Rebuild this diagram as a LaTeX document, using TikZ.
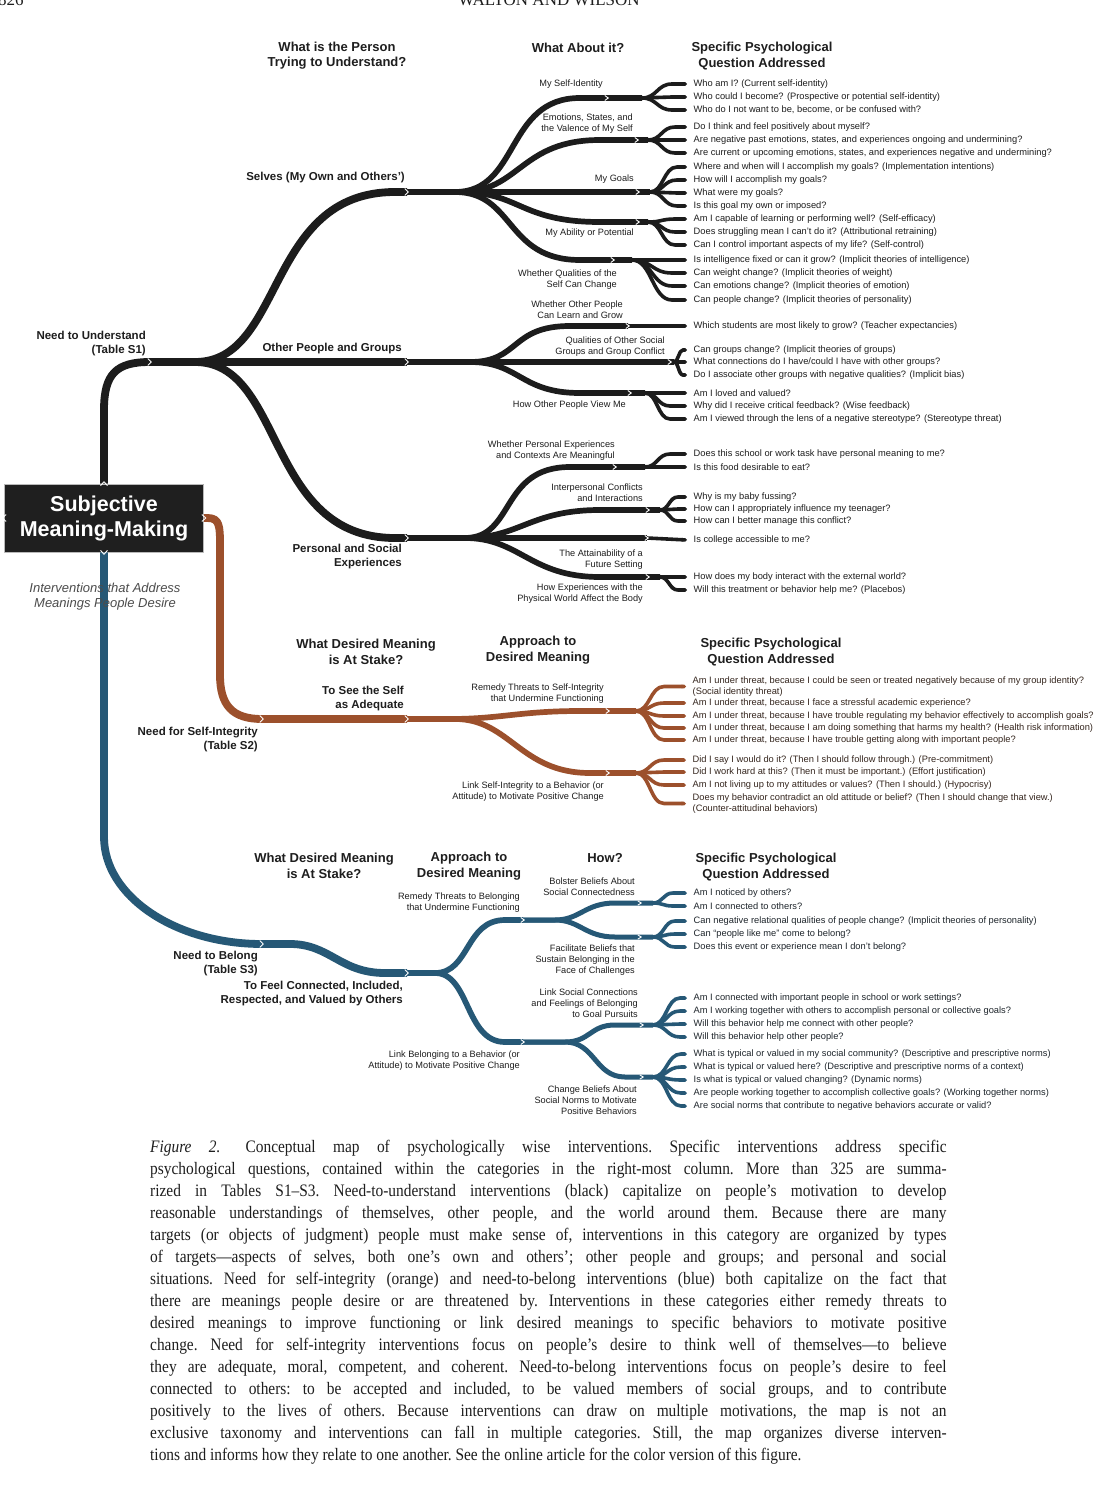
\documentclass[tikz,border=0pt]{standalone}
\usepackage{fontspec}
\setmainfont{Liberation Sans}
\newfontfamily\capfont{Liberation Serif}
\usepackage{graphicx}
\usetikzlibrary{arrows.meta,calc}
\definecolor{cblk}{HTML}{1C1C1C}
\definecolor{corg}{HTML}{9C502C}
\definecolor{cblu}{HTML}{265876}
\definecolor{txt}{HTML}{1E1E1E}
\definecolor{txto}{HTML}{35261E}
\definecolor{txtb}{HTML}{1F262C}
\definecolor{boxc}{HTML}{1F1F1F}
\newcommand\fan[4]{%
  \path (#2) ++(#3,0) coordinate (#2e);
  \foreach \qq in {#4}{%
    \draw[#1] (#2) .. controls +(#3*0.5,0) and +(-#3*0.5,0) .. (#2e |- \qq.west) -- (\qq.west);
  }%
}
\newcommand\chev[2]{\draw[white,line width=0.9pt] ([xshift=-2.2pt,yshift=#2]#1) -- ([xshift=1.3pt]#1) -- ([xshift=-2.2pt,yshift=-#2]#1);}
\begin{document}
\begin{tikzpicture}[x=1pt,y=-1pt,line join=round,
  k0/.style={draw=cblk,line width=7.8pt},
  k1/.style={draw=cblk,line width=5.7pt},
  kl/.style={draw=cblk,line width=3.6pt,-{Triangle Cap}},
  o0/.style={draw=corg,line width=7.8pt},
  o1/.style={draw=corg,line width=5.7pt},
  ol/.style={draw=corg,line width=3.6pt,-{Triangle Cap}},
  b0/.style={draw=cblu,line width=7.8pt},
  b1/.style={draw=cblu,line width=5.7pt},
  b2/.style={draw=cblu,line width=5pt},
  bl/.style={draw=cblu,line width=3.6pt,-{Triangle Cap}},
  hdr/.style={font=\fontsize{13}{15.5}\selectfont\bfseries,align=center,inner sep=0,text=txt},
  mid/.style={font=\fontsize{11.5}{14}\selectfont\bfseries,align=right,anchor=east,inner sep=0,text=txt},
  lab/.style={font=\fontsize{9.2}{11}\selectfont,align=right,anchor=east,inner sep=0,text=txt},
  qs/.style={font=\fontsize{9.3}{11}\selectfont,align=left,anchor=west,inner xsep=6.5pt,inner ysep=0,text=txt},
  qso/.style={qs,text=txto},
  qsb/.style={qs,text=txtb}
]
\fill[white] (0,0) rectangle (1112,1496);
\useasboundingbox (0,0) rectangle (1112,1496);

% running head (cropped at the page top, as in the reference)
\node[anchor=base west,inner sep=0,font=\capfont\fontsize{17}{17}\selectfont,text=txt] (pg) at (-2,6) {826};
\node[anchor=base,inner sep=0,font=\capfont\fontsize{17}{17}\selectfont,text=txt] (rh) at (549,6) {WALTON AND WILSON};

% ---------- question nodes (black) ----------
\node[qs] (q1) at (687,84) {Who am I? (Current self-identity)};
\node[qs] (q2) at (687,97) {Who could I become? (Prospective or potential self-identity)};
\node[qs] (q3) at (687,110) {Who do I not want to be, become, or be confused with?};
\node[qs] (q4) at (687,127) {Do I think and feel positively about myself?};
\node[qs] (q5) at (687,140) {Are negative past emotions, states, and experiences ongoing and undermining?};
\node[qs] (q6) at (687,153) {Are current or upcoming emotions, states, and experiences negative and undermining?};
\node[qs] (q7) at (687,167) {Where and when will I accomplish my goals? (Implementation intentions)};
\node[qs] (q8) at (687,180) {How will I accomplish my goals?};
\node[qs] (q9) at (687,193) {What were my goals?};
\node[qs] (q10) at (687,206) {Is this goal my own or imposed?};
\node[qs] (q11) at (687,219) {Am I capable of learning or performing well? (Self-efficacy)};
\node[qs] (q12) at (687,232) {Does struggling mean I can’t do it? (Attributional retraining)};
\node[qs] (q13) at (687,245) {Can I control important aspects of my life? (Self-control)};
\node[qs] (q14) at (687,260) {Is intelligence fixed or can it grow? (Implicit theories of intelligence)};
\node[qs] (q15) at (687,273) {Can weight change? (Implicit theories of weight)};
\node[qs] (q16) at (687,286) {Can emotions change? (Implicit theories of emotion)};
\node[qs] (q17) at (687,300) {Can people change? (Implicit theories of personality)};
\node[qs] (q18) at (687,326) {Which students are most likely to grow? (Teacher expectancies)};
\node[qs] (q19) at (687,350) {Can groups change? (Implicit theories of groups)};
\node[qs] (q20) at (687,362) {What connections do I have/could I have with other groups?};
\node[qs] (q21) at (687,375) {Do I associate other groups with negative qualities? (Implicit bias)};
\node[qs] (q22) at (687,393) {Am I loved and valued?};
\node[qs] (q23) at (687,406) {Why did I receive critical feedback? (Wise feedback)};
\node[qs] (q24) at (687,419) {Am I viewed through the lens of a negative stereotype? (Stereotype threat)};
\node[qs] (q25) at (687,454) {Does this school or work task have personal meaning to me?};
\node[qs] (q26) at (687,467) {Is this food desirable to eat?};
\node[qs] (q27) at (687,497) {Why is my baby fussing?};
\node[qs] (q28) at (687,509) {How can I appropriately influence my teenager?};
\node[qs] (q29) at (687,521) {How can I better manage this conflict?};
\node[qs] (q30) at (687,540) {Is college accessible to me?};
\node[qs] (q31) at (687,577) {How does my body interact with the external world?};
\node[qs] (q32) at (687,590) {Will this treatment or behavior help me? (Placebos)};

% ---------- question nodes (orange) ----------
\node[qso] (r1) at (686,686.5) {Am I under threat, because I could be seen or treated negatively because of my group identity?\\(Social identity threat)};
\node[qso] (r2) at (686,703) {Am I under threat, because I face a stressful academic experience?};
\node[qso] (r3) at (686,716) {Am I under threat, because I have trouble regulating my behavior effectively to accomplish goals?};
\node[qso] (r4) at (686,728) {Am I under threat, because I am doing something that harms my health? (Health risk information)};
\node[qso] (r5) at (686,740) {Am I under threat, because I have trouble getting along with important people?};
\node[qso] (r6) at (686,760) {Did I say I would do it? (Then I should follow through.) (Pre-commitment)};
\node[qso] (r7) at (686,772) {Did I work hard at this? (Then it must be important.) (Effort justification)};
\node[qso] (r8) at (686,785) {Am I not living up to my attitudes or values? (Then I should.) (Hypocrisy)};
\node[qso] (r9) at (686,803.5) {Does my behavior contradict an old attitude or belief? (Then I should change that view.)\\(Counter-attitudinal behaviors)};

% ---------- question nodes (blue) ----------
\node[qsb] (b1) at (687,893) {Am I noticed by others?};
\node[qsb] (b2) at (687,906) {Am I connected to others?};
\node[qsb] (b3) at (687,921) {Can negative relational qualities of people change? (Implicit theories of personality)};
\node[qsb] (b4) at (687,934) {Can “people like me” come to belong?};
\node[qsb] (b5) at (687,947) {Does this event or experience mean I don’t belong?};
\node[qsb] (b6) at (687,998) {Am I connected with important people in school or work settings?};
\node[qsb] (b7) at (687,1011) {Am I working together with others to accomplish personal or collective goals?};
\node[qsb] (b8) at (687,1024) {Will this behavior help me connect with other people?};
\node[qsb] (b9) at (687,1037) {Will this behavior help other people?};
\node[qsb] (b10) at (687,1054) {What is typical or valued in my social community? (Descriptive and prescriptive norms)};
\node[qsb] (b11) at (687,1067) {What is typical or valued here? (Descriptive and prescriptive norms of a context)};
\node[qsb] (b12) at (687,1080) {Is what is typical or valued changing? (Dynamic norms)};
\node[qsb] (b13) at (687,1093) {Are people working together to accomplish collective goals? (Working together norms)};
\node[qsb] (b14) at (687,1106) {Are social norms that contribute to negative behaviors accurate or valid?};

% ---------- central box ----------
\node[fill=boxc,draw=gray!55,line width=0.6pt,minimum width=199pt,minimum height=68pt,inner sep=0,text=white,align=center,font=\fontsize{21.5}{25}\selectfont\bfseries] (box) at (104,518) {Subjective\\Meaning-Making};

% ---------- coordinates ----------
\coordinate (NU) at (150,362);
\coordinate (S) at (407,192); \coordinate (O) at (407,362); \coordinate (P) at (407,538);
\coordinate (S1) at (607,98);  \coordinate (S1f) at (642,98);
\coordinate (S2) at (637,140); \coordinate (S2f) at (648,140);
\coordinate (S3) at (638,192); \coordinate (S3f) at (650,192);
\coordinate (S4) at (638,222); \coordinate (S4f) at (648,222);
\coordinate (S5) at (613,260); \coordinate (S5f) at (632,260);
\coordinate (O1) at (628,326);
\coordinate (O2) at (670,362); \coordinate (O2f) at (674,362);
\coordinate (O3) at (630,393); \coordinate (O3f) at (645,393);
\coordinate (P1) at (615,467); \coordinate (P1f) at (645,467);
\coordinate (P2) at (648,510); \coordinate (P2f) at (660,510);
\coordinate (P3) at (647,538);
\coordinate (P4) at (648,577); \coordinate (P4f) at (660,577);
\coordinate (OR1) at (262,719); \coordinate (OR2) at (407,719);
\coordinate (OR3) at (608,711); \coordinate (OR3f) at (636,711);
\coordinate (OR4) at (608,773); \coordinate (OR4f) at (636,773);
\coordinate (BL1) at (262,944); \coordinate (BL2) at (407,973);
\coordinate (BL3) at (523,920); \coordinate (BL4) at (523,1042);
\coordinate (BL5) at (640,903); \coordinate (BL5f) at (653,903);
\coordinate (BL6) at (640,937); \coordinate (BL6f) at (653,937);
\coordinate (BL7) at (642,1025); \coordinate (BL7f) at (653,1025);
\coordinate (BL8) at (642,1077); \coordinate (BL8f) at (653,1077);

% ---------- black tree ----------
\draw[k0] (box.north) -- (104,410) .. controls (104,374) and (116,362) .. (NU);
\draw[k0] (NU) -- ++(45,0) .. controls +(90,0) and +(-130,0) .. ([xshift=-12pt]S) -- (S);
\draw[k0] (NU) -- (O);
\draw[k0] (NU) -- ++(45,0) .. controls +(90,0) and +(-130,0) .. ([xshift=-12pt]P) -- (P);
\draw[k1] (S) -- ++(48,0) .. controls +(65,0) and +(-75,0) .. ([xshift=-27pt]S1) -- (S1) -- (S1f);
\draw[k1] (S) -- ++(53,0) .. controls +(60,0) and +(-80,0) .. ([xshift=-37pt]S2) -- (S2) -- (S2f);
\draw[k1] (S) -- (S3) -- (S3f);
\draw[k1] (S) -- ++(53,0) .. controls +(60,0) and +(-80,0) .. ([xshift=-38pt]S4) -- (S4) -- (S4f);
\draw[k1] (S) -- ++(48,0) .. controls +(60,0) and +(-75,0) .. ([xshift=-33pt]S5) -- (S5) -- (S5f);
\draw[k1] (O) -- ++(63,0) .. controls +(50,0) and +(-60,0) .. ([xshift=-58pt]O1) -- (O1);
\draw[k1] (O) -- (O2) -- (O2f);
\draw[k1] (O) -- ++(63,0) .. controls +(50,0) and +(-60,0) .. ([xshift=-50pt]O3) -- (O3) -- (O3f);
\draw[k1] (P) -- ++(58,0) .. controls +(50,0) and +(-70,0) .. ([xshift=-45pt]P1) -- (P1) -- (P1f);
\draw[k1] (P) -- ++(58,0) .. controls +(55,0) and +(-70,0) .. ([xshift=-48pt]P2) -- (P2) -- (P2f);
\draw[k1] (P) -- (P3);
\draw[k1] (P) -- ++(58,0) .. controls +(55,0) and +(-70,0) .. ([xshift=-48pt]P4) -- (P4) -- (P4f);
\fan{kl}{S1f}{30}{q1,q2,q3}
\fan{kl}{S2f}{27}{q4,q5,q6}
\fan{kl}{S3f}{27}{q7,q8,q9,q10}
\fan{kl}{S4f}{27}{q11,q12,q13}
\fan{kl}{S5f}{40}{q14,q15,q16,q17}
\draw[kl] (O1) -- (q18.west);
\fan{kl}{O2f}{9}{q19,q20,q21}
\fan{kl}{O3f}{25}{q22,q23,q24}
\fan{kl}{P1f}{25}{q25,q26}
\fan{kl}{P2f}{18}{q27,q28,q29}
\draw[kl] (P3) -- (q30.west);
\fan{kl}{P4f}{18}{q31,q32}

% ---------- orange tree ----------
\draw[o0] (box.east) -- ++(4,0) .. controls +(12,0) and +(0,-18) .. (220,545) -- (220,675) .. controls +(0,30) and +(-30,0) .. (OR1) -- (OR2);
\draw[o1] (OR2) -- ++(43,0) .. controls +(50,0) and +(-60,0) .. ([xshift=-28pt]OR3) -- (OR3) -- (OR3f);
\draw[o1] (OR2) -- ++(48,0) .. controls +(55,0) and +(-70,0) .. ([xshift=-18pt]OR4) -- (OR4) -- (OR4f);
\fan{ol}{OR3f}{28}{r1,r2,r3,r4,r5}
\fan{ol}{OR4f}{28}{r6,r7,r8,r9}

% ---------- blue tree ----------
\draw[b0] (box.south) -- (104,837) .. controls (104,896) and (175,944) .. (BL1) -- ++(28,0) .. controls +(40,0) and +(-45,0) .. ([xshift=-22pt]BL2) -- (BL2);
\draw[b1] (BL2) -- ++(28,0) .. controls +(35,0) and +(-40,0) .. ([xshift=-18pt]BL3) -- (BL3);
\draw[b1] (BL2) -- ++(28,0) .. controls +(35,0) and +(-40,0) .. ([xshift=-18pt]BL4) -- (BL4);
\draw[b2] (BL3) -- ++(32,0) .. controls +(25,0) and +(-30,0) .. ([xshift=-25pt]BL5) -- (BL5) -- (BL5f);
\draw[b2] (BL3) -- ++(32,0) .. controls +(25,0) and +(-30,0) .. ([xshift=-25pt]BL6) -- (BL6) -- (BL6f);
\draw[b2] (BL4) -- ++(42,0) .. controls +(25,0) and +(-25,0) .. ([xshift=-27pt]BL7) -- (BL7) -- (BL7f);
\draw[b2] (BL4) -- ++(42,0) .. controls +(30,0) and +(-30,0) .. ([xshift=-17pt]BL8) -- (BL8) -- (BL8f);
\fan{bl}{BL5f}{20}{b1,b2}
\fan{bl}{BL6f}{22}{b3,b4,b5}
\fan{bl}{BL7f}{27}{b6,b7,b8,b9}
\fan{bl}{BL8f}{28}{b10,b11,b12,b13,b14}

% ---------- chevrons ----------
\chev{NU}{3.4pt} \chev{S}{3.4pt} \chev{O}{3.4pt} \chev{P}{3.4pt}
\chev{S1}{2.5pt} \chev{S2}{2.5pt} \chev{S3}{2.5pt} \chev{S4}{2.5pt} \chev{S5}{2.5pt}
\chev{O1}{2.5pt} \chev{O2}{2.5pt} \chev{O3}{2.5pt}
\chev{P1}{2.5pt} \chev{P2}{2.5pt} \chev{P3}{2.5pt} \chev{P4}{2.5pt}
\chev{OR1}{3.4pt} \chev{OR2}{3.4pt} \chev{OR3}{2.5pt} \chev{OR4}{2.5pt}
\chev{BL1}{3.4pt} \chev{BL2}{3.4pt} \chev{BL3}{2.5pt} \chev{BL4}{2.5pt}
\chev{BL5}{2.1pt} \chev{BL6}{2.1pt} \chev{BL7}{2.1pt} \chev{BL8}{2.1pt}
\draw[white,line width=0.9pt] ([xshift=-3.5pt,yshift=-2pt]box.north) -- ([yshift=2pt]box.north) -- ([xshift=3.5pt,yshift=-2pt]box.north);
\draw[white,line width=0.9pt] ([xshift=-3.5pt,yshift=2pt]box.south) -- ([yshift=-2pt]box.south) -- ([xshift=3.5pt,yshift=2pt]box.south);
\draw[white,line width=0.9pt] ([xshift=2pt,yshift=3.5pt]box.west) -- ([xshift=-2pt]box.west) -- ([xshift=2pt,yshift=-3.5pt]box.west);
\draw[white,line width=0.9pt] ([xshift=-2pt,yshift=3.5pt]box.east) -- ([xshift=2pt]box.east) -- ([xshift=-2pt,yshift=-3.5pt]box.east);

% ---------- headers ----------
\node[hdr] (h1) at (337,55.5) {What is the Person\\Trying to Understand?};
\node[hdr] (h2) at (578,48) {What About it?};
\node[hdr] (h3) at (762,56) {Specific Psychological\\Question Addressed};
\node[hdr] (h4) at (366,652) {What Desired Meaning\\is At Stake?};
\node[hdr] (h5) at (538,650) {Approach to\\Desired Meaning};
\node[hdr] (h6) at (771,652) {Specific Psychological\\Question Addressed};
\node[hdr] (h7) at (324,866) {What Desired Meaning\\is At Stake?};
\node[hdr] (h8) at (469,866) {Approach to\\Desired Meaning};
\node[hdr] (h9) at (605,858) {How?};
\node[hdr] (h10) at (766,867) {Specific Psychological\\Question Addressed};

% ---------- bold branch labels ----------
\node[mid] (m1) at (146,344) {Need to Understand\\(Table S1)};
\node[mid] (m2) at (405,178) {Selves (My Own and Others’)};
\node[mid] (m3) at (402,349) {Other People and Groups};
\node[mid] (m4) at (402,557) {Personal and Social\\Experiences};
\node[mid] (m5) at (404,698.5) {To See the Self\\as Adequate};
\node[mid] (m6) at (258,740) {Need for Self-Integrity\\(Table S2)};
\node[mid] (m7) at (258,964) {Need to Belong\\(Table S3)};
\node[mid] (m8) at (403,994) {To Feel Connected, Included,\\Respected, and Valued by Others};

% ---------- small labels ----------
\node[lab] (a1) at (603,84) {My Self-Identity};
\node[lab] (a2) at (633,123.5) {Emotions, States, and\\the Valence of My Self};
\node[lab] (a3) at (634,179) {My Goals};
\node[lab] (a4) at (634,233.5) {My Ability or Potential};
\node[lab] (a5) at (617,279.5) {Whether Qualities of the\\Self Can Change};
\node[lab] (a6) at (623,309.5) {Whether Other People\\Can Learn and Grow};
\node[lab] (a7) at (665,346.5) {Qualities of Other Social\\Groups and Group Conflict};
\node[lab] (a8) at (626,405.5) {How Other People View Me};
\node[lab] (a9) at (615,451) {Whether Personal Experiences\\and Contexts Are Meaningful};
\node[lab] (a10) at (643,492.5) {Interpersonal Conflicts\\and Interactions};
\node[lab] (a11) at (643,559.5) {The Attainability of a\\Future Setting};
\node[lab] (a12) at (643,594) {How Experiences with the\\Physical World Affect the Body};
\node[lab] (a13) at (604,693.5) {Remedy Threats to Self-Integrity\\that Undermine Functioning};
\node[lab] (a14) at (604,791.5) {Link Self-Integrity to a Behavior (or\\Attitude) to Motivate Positive Change};
\node[lab] (a15) at (520,902.5) {Remedy Threats to Belonging\\that Undermine Functioning};
\node[lab] (a16) at (635,887) {Bolster Beliefs About\\Social Connectedness};
\node[lab] (a17) at (635,960) {Facilitate Beliefs that\\Sustain Belonging in the\\Face of Challenges};
\node[lab] (a18) at (638,1003) {Link Social Connections\\and Feelings of Belonging\\to Goal Pursuits};
\node[lab] (a19) at (520,1061) {Link Belonging to a Behavior (or\\Attitude) to Motivate Positive Change};
\node[lab] (a20) at (637,1100) {Change Beliefs About\\Social Norms to Motivate\\Positive Behaviors};

\node[font=\fontsize{13}{15}\selectfont\itshape,text=black!70,align=center,inner sep=0] (ital) at (105,596.5) {Interventions that Address\\Meanings People Desire};

% ---------- caption ----------
\node[anchor=north west,inner sep=0,text=txt] (cap) at (150,1140) {\scalebox{0.88}[1]{\parbox{905pt}{\capfont\fontsize{17.5}{22}\selectfont\frenchspacing\tolerance=9999\hyphenpenalty=10000\exhyphenpenalty=10000
\textit{Figure 2.}\hspace{0.5em} Conceptual map of psychologically wise interventions. Specific interventions address specific\linebreak
psychological questions, contained within the categories in the right-most column. More than 325 are summa-\linebreak
rized in Tables S1–S3. Need-to-understand interventions (black) capitalize on people’s motivation to develop\linebreak
reasonable understandings of themselves, other people, and the world around them. Because there are many\linebreak
targets (or objects of judgment) people must make sense of, interventions in this category are organized by types\linebreak
of targets—aspects of selves, both one’s own and others’; other people and groups; and personal and social\linebreak
situations. Need for self-integrity (orange) and need-to-belong interventions (blue) both capitalize on the fact that\linebreak
there are meanings people desire or are threatened by. Interventions in these categories either remedy threats to\linebreak
desired meanings to improve functioning or link desired meanings to specific behaviors to motivate positive\linebreak
change. Need for self-integrity interventions focus on people’s desire to think well of themselves—to believe\linebreak
they are adequate, moral, competent, and coherent. Need-to-belong interventions focus on people’s desire to feel\linebreak
connected to others: to be accepted and included, to be valued members of social groups, and to contribute\linebreak
positively to the lives of others. Because interventions can draw on multiple motivations, the map is not an\linebreak
exclusive taxonomy and interventions can fall in multiple categories. Still, the map organizes diverse interven-\linebreak
tions and informs how they relate to one another. See the online article for the color version of this figure.}}};
\end{tikzpicture}
\end{document}
